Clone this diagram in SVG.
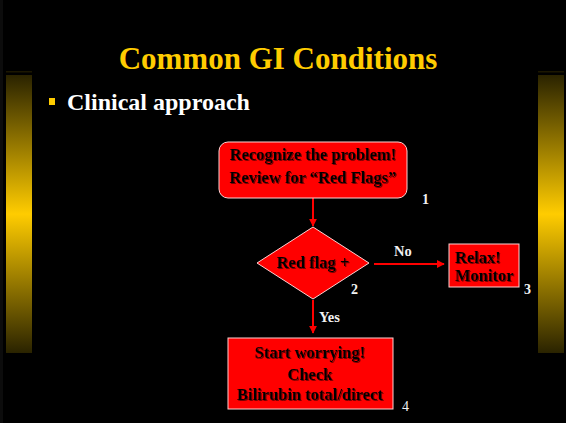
<svg xmlns="http://www.w3.org/2000/svg" width="566" height="423" viewBox="0 0 566 423">
<defs>
<linearGradient id="bar" x1="0" y1="0" x2="0" y2="1">
<stop offset="0" stop-color="#2a2300"/>
<stop offset="0.5" stop-color="#ffcc00"/>
<stop offset="1" stop-color="#2a2300"/>
</linearGradient>
<marker id="arr" viewBox="0 0 10 10" refX="9" refY="5" markerWidth="4" markerHeight="4" orient="auto" markerUnits="strokeWidth">
<path d="M0,0 L10,5 L0,10 z" fill="#ff0000"/>
</marker>
<filter id="sh" x="-10%" y="-20%" width="120%" height="140%">
<feDropShadow dx="1" dy="1" stdDeviation="0.4" flood-color="#7a0000" flood-opacity="1"/>
</filter>
</defs>
<style>
.t{font-family:"Liberation Serif","Times New Roman",serif;font-weight:bold}
.bx{font-family:"Liberation Serif","Times New Roman",serif;font-weight:bold;font-size:16.5px;fill:#000;filter:url(#sh)}
.lbl{font-family:"Liberation Serif","Times New Roman",serif;font-weight:bold;font-size:14.5px;fill:#f2f2f2}
.num{font-family:"Liberation Serif","Times New Roman",serif;font-weight:bold;font-size:14px;fill:#f2f2f2}
.node{fill:#ff0000;stroke:#ffd0d0;stroke-width:1}
.con{stroke:#ff0000;stroke-width:2;fill:none;marker-end:url(#arr)}
</style>
<rect width="566" height="423" fill="#000"/>
<rect x="0" y="0" width="3" height="423" fill="#0c0c0c"/>
<rect x="6" y="71" width="26" height="1.5" fill="#1c1700"/>
<rect x="6" y="75" width="26" height="278" fill="url(#bar)"/>
<rect x="538" y="71" width="26" height="1.5" fill="#1c1700"/>
<rect x="538" y="75" width="26" height="278" fill="url(#bar)"/>
<text class="t" x="278" y="69" font-size="31" fill="#ffcc00" text-anchor="middle">Common GI Conditions</text>
<rect x="49" y="98" width="6" height="7" fill="#ffcc00"/>
<text class="t" x="67" y="110" font-size="24" fill="#ffffff">Clinical approach</text>
<g id="connectors">
<line class="con" x1="313" y1="198" x2="313" y2="226"/>
<line class="con" x1="374" y1="264" x2="444" y2="264"/>
<line class="con" x1="313" y1="300" x2="313" y2="333"/>
<text class="lbl" x="394" y="256">No</text>
<text class="lbl" x="319" y="322">Yes</text>
</g>
<g id="node1">
<rect class="node" x="219" y="142" width="188" height="56" rx="9"/>
<text class="bx" x="313" y="160" text-anchor="middle">Recognize the problem!</text>
<text class="bx" x="313" y="183" text-anchor="middle">Review for “Red Flags”</text>
<text class="num" x="422" y="204">1</text>
</g>
<g id="node2">
<polygon class="node" points="313,227 369,263 313,299 257,263"/>
<text class="bx" x="313" y="268" text-anchor="middle">Red flag +</text>
<text class="num" x="351" y="294">2</text>
</g>
<g id="node3">
<rect class="node" x="449" y="244" width="70" height="43"/>
<text class="bx" x="455" y="263">Relax!</text>
<text class="bx" x="455" y="281">Monitor</text>
<text class="num" x="524" y="294">3</text>
</g>
<g id="node4">
<rect class="node" x="228" y="338" width="165" height="71"/>
<text class="bx" x="310" y="358" text-anchor="middle">Start worrying!</text>
<text class="bx" x="310" y="380" text-anchor="middle">Check</text>
<text class="bx" x="310" y="400" text-anchor="middle">Bilirubin total/direct</text>
<text class="num" x="402" y="411" style="font-weight:normal">4</text>
</g>
</svg>
